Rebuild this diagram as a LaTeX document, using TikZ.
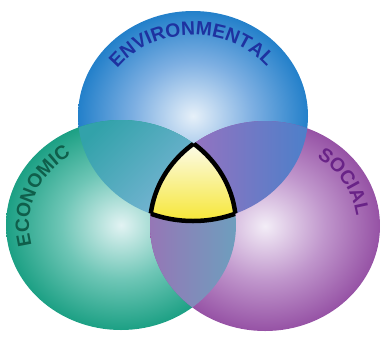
\documentclass[tikz,border=0pt]{standalone}
\usepackage{fontspec}
\usepackage{tikz}
\usetikzlibrary{decorations.text}
\newfontfamily\labelfont{Liberation Sans}
\definecolor{envE}{RGB}{35,128,202}
\definecolor{envM}{RGB}{125,175,226}
\definecolor{envC}{RGB}{230,240,249}
\definecolor{ecoE}{RGB}{28,160,132}
\definecolor{ecoM}{RGB}{110,198,182}
\definecolor{ecoC}{RGB}{226,243,243}
\definecolor{socE}{RGB}{150,82,165}
\definecolor{socM}{RGB}{192,150,204}
\definecolor{socC}{RGB}{243,237,247}
\definecolor{envT}{RGB}{30,50,160}
\definecolor{ecoT}{RGB}{15,95,75}
\definecolor{socT}{RGB}{105,35,135}
\definecolor{bgA}{RGB}{50,162,170}
\definecolor{bgB}{RGB}{125,182,215}
\definecolor{bpA}{RGB}{150,114,192}
\definecolor{bpB}{RGB}{75,128,202}
\definecolor{gpA}{RGB}{150,118,182}
\definecolor{gpB}{RGB}{108,160,190}
\definecolor{yelT}{RGB}{252,252,240}
\definecolor{yelB}{RGB}{246,230,50}
\pgfdeclareradialshading{envshade}{\pgfpoint{0bp}{0bp}}{color(0bp)=(envC); color(13bp)=(envM); color(25bp)=(envE); color(50bp)=(envE)}
\pgfdeclareradialshading{ecoshade}{\pgfpoint{0bp}{0bp}}{color(0bp)=(ecoC); color(13bp)=(ecoM); color(25bp)=(ecoE); color(50bp)=(ecoE)}
\pgfdeclareradialshading{socshade}{\pgfpoint{0bp}{0bp}}{color(0bp)=(socC); color(13bp)=(socM); color(25bp)=(socE); color(50bp)=(socE)}
\def\envcirc{(193,227) ellipse [x radius=115, y radius=105]}
\def\ecocirc{(121,118) ellipse [x radius=115, y radius=105]}
\def\soccirc{(265,117) ellipse [x radius=115, y radius=105]}

\begin{document}
\begin{tikzpicture}[x=0.02cm, y=0.02cm,
  rim/.style={line width=0.09cm, black, line join=round},
  arctext/.style={decorate, decoration={text along path, text align=center}}]
\useasboundingbox (0,0) rectangle (388,343);
% 三个圆
\shade[shading=envshade] \envcirc;
\shade[shading=ecoshade] \ecocirc;
\shade[shading=socshade] \soccirc;
% 两两重叠
\begin{scope}
  \clip \envcirc; \clip \ecocirc;
  \shade[top color=bgA, bottom color=bgB, shading angle=45] (76,118) rectangle (196,228);
\end{scope}
\begin{scope}
  \clip \envcirc; \clip \soccirc;
  \shade[left color=bpA, right color=bpB] (190,118) rectangle (310,228);
\end{scope}
\begin{scope}
  \clip \ecocirc; \clip \soccirc;
  \shade[left color=gpA, right color=gpB] (148,28) rectangle (240,140);
\end{scope}
% 中间三角
\begin{scope}
  \clip \envcirc; \clip \ecocirc; \clip \soccirc;
  \shade[top color=yelT, bottom color=yelB] (148,120) rectangle (240,202);
\end{scope}
\begin{scope}
  \clip \ecocirc; \clip \soccirc;
  \draw[rim] \envcirc;
\end{scope}
\begin{scope}
  \clip \envcirc; \clip \soccirc;
  \draw[rim] \ecocirc;
\end{scope}
\begin{scope}
  \clip \envcirc; \clip \ecocirc;
  \draw[rim] \soccirc;
\end{scope}
% 弧形文字
\path[arctext, decoration={text color=envT, text={|\labelfont\bfseries\fontsize{11}{13}\selectfont|ENVIRONMENTAL}}]
  (193,227) ++(168:93 and 81) arc[start angle=168, end angle=14, x radius=93, y radius=81];
\path[arctext, decoration={text color=ecoT, text={|\labelfont\bfseries\fontsize{11}{13}\selectfont|ECONOMIC}}]
  (121,118) ++(210:92 and 83) arc[start angle=210, end angle=108, x radius=92, y radius=83];
\path[arctext, decoration={text color=socT, text={|\labelfont\bfseries\fontsize{11}{13}\selectfont|SOCIAL}}]
  (265,117) ++(64:92 and 83) arc[start angle=64, end angle=-2, x radius=92, y radius=83];
\end{tikzpicture}
\end{document}
